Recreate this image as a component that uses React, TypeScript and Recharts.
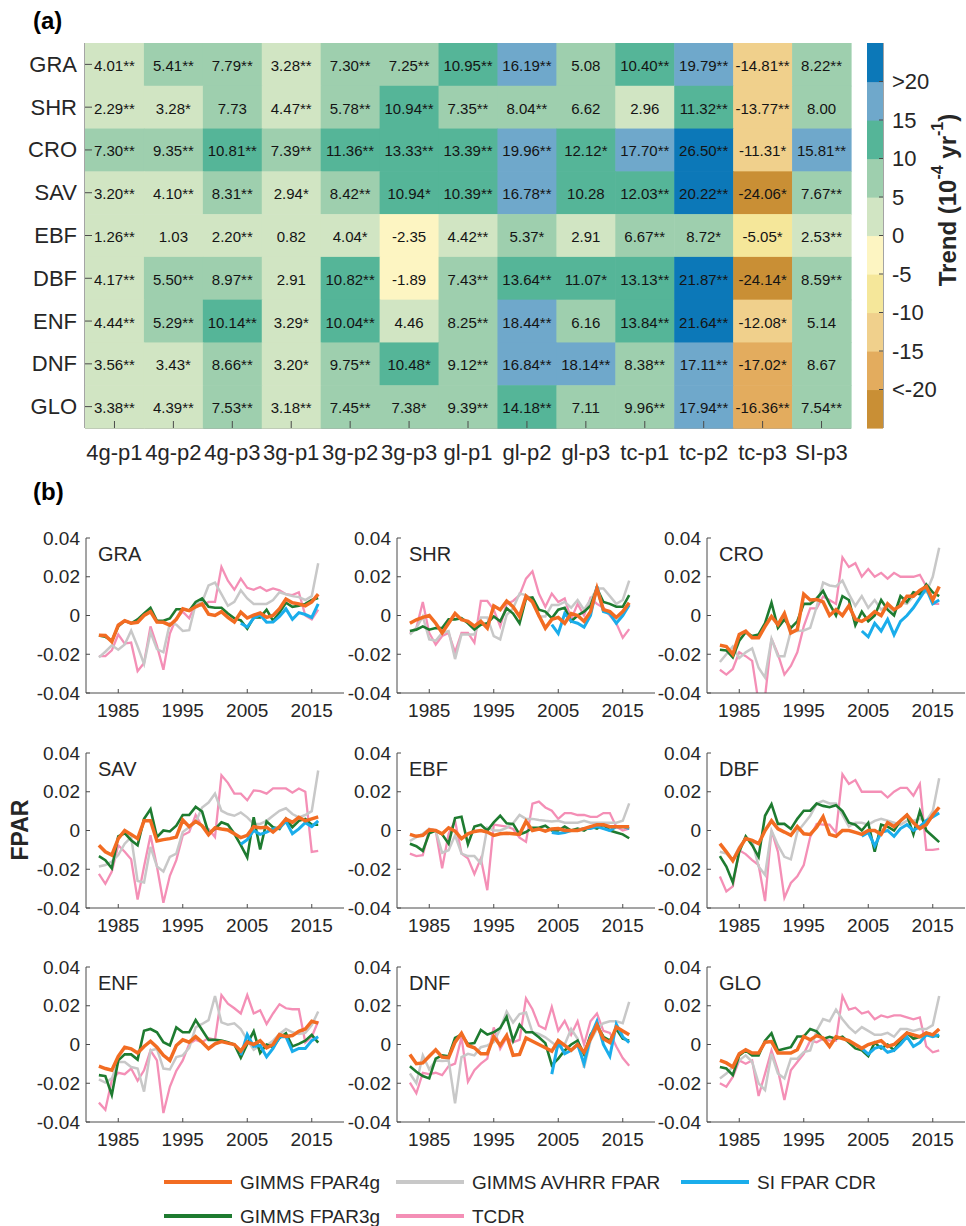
import React from 'react';
import { ScatterChart, Scatter, LineChart, Line, XAxis, YAxis } from 'recharts';

const FONT = '"Liberation Sans", Arial, Helvetica, sans-serif';
const INK = '#262626';
const AX = '#4a4a4a';

// ---------- (a) trend table ----------
const ROWS = ['GRA', 'SHR', 'CRO', 'SAV', 'EBF', 'DBF', 'ENF', 'DNF', 'GLO'];
const COLS = ['4g-p1', '4g-p2', '4g-p3', '3g-p1', '3g-p2', '3g-p3', 'gl-p1', 'gl-p2', 'gl-p3', 'tc-p1', 'tc-p2', 'tc-p3', 'SI-p3'];

const trendGRA = [4.01, 5.41, 7.79, 3.28, 7.30, 7.25, 10.95, 16.19, 5.08, 10.40, 19.79, -14.81, 8.22];
const sigGRA = ['**', '**', '**', '**', '**', '**', '**', '**', '', '**', '**', '**', '**'];
const trendSHR = [2.29, 3.28, 7.73, 4.47, 5.78, 10.94, 7.35, 8.04, 6.62, 2.96, 11.32, -13.77, 8.00];
const sigSHR = ['**', '*', '', '**', '**', '**', '**', '**', '', '', '**', '**', ''];
const trendCRO = [7.30, 9.35, 10.81, 7.39, 11.36, 13.33, 13.39, 19.96, 12.12, 17.70, 26.50, -11.31, 15.81];
const sigCRO = ['**', '**', '**', '**', '**', '**', '**', '**', '*', '**', '**', '*', '**'];
const trendSAV = [3.20, 4.10, 8.31, 2.94, 8.42, 10.94, 10.39, 16.78, 10.28, 12.03, 20.22, -24.06, 7.67];
const sigSAV = ['**', '**', '**', '*', '**', '*', '**', '**', '', '**', '**', '*', '**'];
const trendEBF = [1.26, 1.03, 2.20, 0.82, 4.04, -2.35, 4.42, 5.37, 2.91, 6.67, 8.72, -5.05, 2.53];
const sigEBF = ['**', '', '**', '', '*', '', '**', '*', '', '**', '*', '*', '**'];
const trendDBF = [4.17, 5.50, 8.97, 2.91, 10.82, -1.89, 7.43, 13.64, 11.07, 13.13, 21.87, -24.14, 8.59];
const sigDBF = ['**', '**', '**', '', '**', '', '**', '**', '*', '**', '**', '*', '**'];
const trendENF = [4.44, 5.29, 10.14, 3.29, 10.04, 4.46, 8.25, 18.44, 6.16, 13.84, 21.64, -12.08, 5.14];
const sigENF = ['**', '**', '**', '*', '**', '', '**', '**', '', '**', '**', '*', ''];
const trendDNF = [3.56, 3.43, 8.66, 3.20, 9.75, 10.48, 9.12, 16.84, 18.14, 8.38, 17.11, -17.02, 8.67];
const sigDNF = ['**', '*', '**', '*', '**', '*', '**', '**', '**', '**', '**', '*', ''];
const trendGLO = [3.38, 4.39, 7.53, 3.18, 7.45, 7.38, 9.39, 14.18, 7.11, 9.96, 17.94, -16.36, 7.54];
const sigGLO = ['**', '**', '**', '**', '**', '*', '**', '**', '', '**', '**', '**', '**'];

const trendRows = [trendGRA, trendSHR, trendCRO, trendSAV, trendEBF, trendDBF, trendENF, trendDNF, trendGLO];
const sigRows = [sigGRA, sigSHR, sigCRO, sigSAV, sigEBF, sigDBF, sigENF, sigDNF, sigGLO];

// colour classes (10 bins of width 5, open-ended at +-20)
const BIN_EDGES = [-25, -20, -15, -10, -5, 0, 5, 10, 15, 20, 25];
const BIN_COLORS = ['#C98F35', '#E3AC5E', '#F0D08C', '#F5E79A', '#FDF5C2', '#D1E5C3', '#9ECFAE', '#55B598', '#6FA8CB', '#0C78B8'];
const CB_TICKS = [-20, -15, -10, -5, 0, 5, 10, 15, 20];

const binColor = (v: number) => {
  let i = 0;
  for (let k = 1; k < BIN_EDGES.length - 1; k++) if (v >= BIN_EDGES[k]) i = k;
  return BIN_COLORS[i];
};

const heatCells = ROWS.flatMap((_, r) =>
  COLS.map((_, c) => ({ c, r, v: trendRows[r][c], s: sigRows[r][c] }))
);
const cbCells = BIN_COLORS.map((color, i) => ({ x: 0.5, y: (BIN_EDGES[i] + BIN_EDGES[i + 1]) / 2, color }));

// ---------- (b) anomaly series ----------
const YEARS = [1982, 1983, 1984, 1985, 1986, 1987, 1988, 1989, 1990, 1991, 1992, 1993, 1994, 1995, 1996, 1997, 1998, 1999,
  2000, 2001, 2002, 2003, 2004, 2005, 2006, 2007, 2008, 2009, 2010, 2011, 2012, 2013, 2014, 2015, 2016];
const SI_YEARS = [2004, 2005, 2006, 2007, 2008, 2009, 2010, 2011, 2012, 2013, 2014, 2015, 2016];
const YEAR_TICKS = [1985, 1995, 2005, 2015];
const FPAR_TICKS = [-0.04, -0.02, 0, 0.02, 0.04];

const GRA_g4 = [-0.0102, -0.0103, -0.0135, -0.005, -0.0027, -0.004, -0.0035, 0, 0.002, -0.0034, -0.0035, -0.005, -0.002, 0.0035, 0.0025, 0.0045, 0.006, 0.0007, 0, 0.002, -0.001, -0.0034, 0.0017, -0.0013, 0.0002, 0.0013, -0.001, 0, 0.0035, 0.0085, 0.0066, 0.006, 0.005, 0.007, 0.011];
const GRA_g3 = [-0.0103, -0.011, -0.013, -0.0056, -0.0027, -0.004, -0.002, 0.001, 0.004, -0.0027, -0.0027, -0.0015, 0.0032, 0.0032, 0.0025, 0.007, 0.0088, 0.0045, 0.004, 0.004, 0.001, -0.0015, -0.0025, -0.0068, -0.001, -0.001, 0.003, -0.0027, 0.0015, 0.0066, 0.0045, 0.005, 0.006, 0.008, 0.009];
const GRA_si = [-0.004, -0.006, -0.0014, 0.0003, -0.0035, -0.0034, -0.0005, 0.0034, -0.002, 0.0015, 0.0005, -0.001, 0.006];
const GRA_av = [-0.0216, -0.0187, -0.0154, -0.0177, -0.015, -0.0078, -0.016, -0.025, -0.0086, -0.0174, -0.019, -0.004, -0.0047, -0.008, -0.0076, 0.006, 0.007, 0.0155, 0.017, 0.011, 0.005, 0.007, 0.013, 0.0088, 0.006, 0.006, 0.006, 0.008, 0.012, 0.011, 0.01, 0.0095, 0.008, 0.01, 0.027];
const GRA_tc = [-0.021, -0.021, -0.018, -0.0098, -0.0145, -0.014, -0.0287, -0.0245, -0.0056, -0.0157, -0.028, -0.0093, -0.0014, 0.002, -0.0014, 0.006, 0.005, 0.007, 0.007, 0.025, 0.018, 0.0133, 0.019, 0.0143, 0.0133, 0.0147, 0.0127, 0.014, 0.013, 0.011, 0.0105, 0.012, 0, -0.002, 0.003];

const SHR_g4 = [-0.004, -0.0022, -0.001, 0, -0.004, -0.009, -0.004, 0.001, -0.0022, -0.003, -0.0055, -0.003, -0.0065, 0.005, 0.003, 0.0075, 0.0045, -0.0005, 0.01, 0.007, 0, -0.0065, -0.002, -0.001, -0.004, 0.001, 0, -0.003, 0.002, 0.014, 0.003, 0.002, -0.001, 0.002, 0.0066];
const SHR_g3 = [-0.008, -0.0073, -0.0056, -0.0073, -0.0065, -0.0065, -0.002, -0.002, -0.0014, -0.004, -0.0073, -0.0047, -0.004, -0.0005, -0.003, 0.0037, 0.001, -0.004, 0.0088, 0.0093, 0.003, 0.002, -0.0014, 0.003, 0.004, -0.003, 0, 0.002, 0.005, 0.014, 0.007, 0.006, 0.0045, 0.0045, 0.0105];
const SHR_si = [-0.0047, -0.0093, 0.001, -0.003, -0.004, -0.006, 0, 0.015, 0.002, 0.001, -0.004, 0, 0.0054];
const SHR_av = [-0.0098, -0.0065, -0.0005, -0.0123, -0.013, -0.009, -0.008, -0.0225, -0.0098, -0.0098, -0.0098, -0.001, -0.001, -0.0106, -0.0123, 0.0003, 0.0037, 0.0113, 0.0105, 0.008, -0.0005, -0.0005, 0.0054, 0.0054, 0.007, 0.004, 0.008, 0.003, 0.008, 0.014, 0.014, 0.01, 0.006, 0.008, 0.018];
const SHR_tc = [-0.009, -0.0065, 0.007, -0.009, -0.015, -0.0106, -0.009, -0.019, -0.009, -0.009, -0.014, 0.0075, 0.0075, 0.003, -0.0056, 0.006, 0.0075, 0.0105, 0.019, 0.0228, 0.0113, 0.0045, 0.0113, 0.007, 0.0088, -0.002, 0.006, 0, 0.009, 0.006, 0.004, 0, -0.004, -0.0115, -0.007];

const CRO_g4 = [-0.0153, -0.016, -0.02, -0.0098, -0.0081, -0.0115, -0.0115, -0.0056, -0.0005, -0.0047, 0.001, -0.009, -0.0073, 0.011, 0.008, 0.0083, 0.007, 0, 0.003, 0, 0.005, -0.002, -0.003, -0.001, 0.002, 0, 0.006, 0.003, 0.005, 0.01, 0.01, 0.013, 0.015, 0.008, 0.015];
const CRO_g3 = [-0.0177, -0.018, -0.0216, -0.013, -0.0086, -0.0106, -0.0098, -0.004, 0.0066, -0.0064, -0.002, -0.0064, -0.003, 0.006, 0.006, 0.0088, 0.0127, 0.006, 0, 0.01, 0.008, -0.005, 0.002, -0.003, 0, 0.008, 0.003, 0, 0.01, 0.007, 0.012, 0.011, 0.016, 0.012, 0.01];
const CRO_si = [-0.008, -0.011, -0.004, -0.008, -0.002, -0.01, -0.003, 0, 0.004, 0.009, 0.014, 0.006, 0.008];
const CRO_av = [-0.024, -0.02, -0.016, -0.022, -0.019, -0.017, -0.027, -0.032, -0.012, -0.021, -0.021, -0.008, -0.008, -0.0077, -0.0064, 0.0045, 0.017, 0.0155, 0.015, 0.018, 0.011, 0.005, 0.01, 0.004, 0.008, 0.003, 0.005, 0.002, 0.007, 0.006, 0.01, 0.012, 0.012, 0.02, 0.035];
const CRO_tc = [-0.028, -0.0305, -0.0276, -0.019, -0.021, -0.0234, -0.045, -0.042, -0.012, -0.02, -0.0305, -0.026, -0.019, -0.0056, 0.0037, 0.0037, 0.0098, 0.008, 0.006, 0.03, 0.025, 0.027, 0.02, 0.024, 0.02, 0.022, 0.019, 0.022, 0.02, 0.02, 0.02, 0.021, 0.015, 0.006, 0.006];

const SAV_g4 = [-0.0076, -0.011, -0.0127, -0.0042, 0, -0.002, -0.0042, 0.005, 0.005, -0.0054, -0.0047, -0.0042, -0.0034, 0.0054, 0.002, 0.0047, 0.0025, -0.0022, 0.0014, 0.0008, 0.0003, -0.0017, -0.0037, -0.0025, 0.002, 0.0014, 0.0017, -0.0008, 0.002, 0.006, 0.0042, 0.0068, 0.005, 0.006, 0.007];
const SAV_g3 = [-0.0132, -0.0153, -0.0195, -0.003, -0.0014, -0.005, -0.0076, 0.006, 0.011, -0.0034, 0, -0.0005, 0.0025, 0.008, 0.008, 0.0122, 0.0098, -0.0014, 0.0008, 0.0042, 0.003, -0.0017, -0.0076, -0.0139, 0.0068, -0.0098, 0.0047, 0.0017, 0.0008, 0.006, 0.0017, 0.005, 0.006, 0.003, 0.003];
const SAV_si = [-0.0071, -0.0047, 0, -0.002, -0.0008, 0.0008, 0.0014, 0.0047, -0.0017, 0.0008, 0.004, 0.002, 0.005];
const SAV_av = [-0.0186, -0.0178, -0.016, -0.0127, -0.0068, -0.0034, -0.026, -0.0268, -0.0085, -0.0186, -0.0212, -0.0136, -0.0119, -0.0008, 0.0017, 0.0042, 0.0119, 0.0144, 0.019, 0.0102, 0.0085, 0.0076, 0.0093, 0.0068, 0.0034, 0.0034, 0.005, 0.0076, 0.0102, 0.0115, 0.0085, 0.0068, 0.008, 0.01, 0.031];
const SAV_tc = [-0.0224, -0.0275, -0.0212, -0.0076, -0.011, -0.0149, -0.0356, -0.0186, -0.0025, -0.0186, -0.0373, -0.0234, -0.0153, -0.0025, -0.0008, 0.008, 0.002, 0.0008, -0.0034, 0.0285, 0.0246, 0.019, 0.019, 0.0156, 0.0207, 0.0203, 0.019, 0.0217, 0.0217, 0.0217, 0.0195, 0.0217, 0.02, -0.011, -0.0105];

const EBF_g4 = [-0.002, -0.003, -0.0025, 0.0003, 0, -0.0017, 0.0014, -0.0003, -0.0042, -0.0017, -0.0005, 0, -0.0008, -0.0025, -0.0017, -0.0014, -0.0017, -0.002, 0.0047, 0, 0.0008, -0.0003, 0.0008, 0.001, 0, 0, 0, 0.001, 0.002, 0.003, 0.003, 0.002, 0.002, 0.002, 0.002];
const EBF_g3 = [-0.0068, -0.0081, -0.0105, -0.0014, 0, -0.002, -0.0068, 0.0064, 0.0071, -0.0071, 0.002, 0.003, 0, 0.0042, 0.0076, 0.0037, 0.0034, -0.002, -0.0008, 0.0014, 0.0014, 0.0025, 0, 0, 0.002, 0, 0.001, 0, 0.002, 0.001, 0.003, 0, -0.001, -0.002, -0.004];
const EBF_si = [-0.001, -0.0015, -0.001, 0, 0, 0.001, 0.001, 0.002, 0.001, 0, 0.002, 0.002, 0.001];
const EBF_av = [-0.0054, -0.0034, -0.0017, 0.0008, 0, -0.0115, -0.0102, -0.0025, -0.0119, -0.0132, -0.0132, -0.017, 0.0014, 0, 0, 0.0014, 0.0037, 0.008, 0.006, 0.006, 0.0054, 0.005, 0.0047, 0.005, 0.004, 0.004, 0.004, 0.005, 0.004, 0.004, 0.004, 0.004, 0.004, 0.005, 0.014];
const EBF_tc = [-0.0119, -0.0132, -0.0127, 0.0008, 0, -0.0195, -0.0017, 0.005, -0.0119, -0.0144, -0.0224, -0.0144, -0.0308, 0.003, 0.0025, 0.002, 0.0008, -0.0037, -0.0059, 0.0139, 0.0149, 0.0119, 0.0102, 0.006, 0.009, 0.009, 0.008, 0.008, 0.007, 0.007, 0.009, 0.009, 0.002, 0, 0.001];

const DBF_g4 = [-0.0068, -0.011, -0.0156, -0.0093, -0.0042, -0.0051, -0.0068, 0, 0.005, 0.0008, -0.0008, -0.0025, 0.002, -0.0017, -0.002, 0.0017, 0.0071, -0.002, -0.003, 0, 0, -0.001, -0.002, 0, 0, -0.002, 0.004, 0.002, 0.005, 0.008, 0.004, 0.001, 0.003, 0.008, 0.012];
const DBF_g3 = [-0.0132, -0.0186, -0.0268, -0.011, -0.003, -0.0076, -0.0136, 0.0076, 0.0136, 0.0034, 0.0034, 0.0008, 0.006, 0.0102, 0.0102, 0.0139, 0.0127, 0.012, 0.013, 0.01, 0.004, 0.003, 0, 0.004, -0.011, 0.003, 0.002, 0, 0.005, 0.008, -0.002, 0.01, 0, -0.003, -0.006];
const DBF_si = [-0.003, -0.001, -0.008, -0.001, 0, -0.003, 0.001, 0.003, 0, 0.002, 0.005, 0.007, 0.009];
const DBF_av = [-0.011, -0.0119, -0.0153, -0.0085, -0.0042, -0.0054, -0.0186, -0.0229, 0, -0.0076, -0.0136, -0.0149, -0.0008, 0.0034, 0.0076, 0.0139, 0.0153, 0.014, 0.014, 0.008, 0.002, 0.004, 0.004, 0.003, 0.005, 0.006, 0.005, 0.004, 0.003, 0.005, 0.005, 0.006, 0.005, 0.01, 0.027];
const DBF_tc = [-0.0237, -0.0314, -0.0288, -0.0102, -0.0122, -0.0153, -0.0178, -0.0364, 0, -0.011, -0.0347, -0.0271, -0.0237, -0.0178, -0.0034, 0.0034, 0.003, 0.003, -0.001, 0.029, 0.024, 0.026, 0.02, 0.02, 0.02, 0.02, 0.017, 0.02, 0.022, 0.022, 0.018, 0.024, -0.01, -0.01, -0.0095];

const ENF_g4 = [-0.0112, -0.0124, -0.0133, -0.0061, -0.0014, -0.0022, -0.0044, -0.001, 0.0017, -0.0014, -0.0056, -0.0082, -0.0005, 0.0024, 0.0012, 0.0041, 0.0012, -0.0022, 0.0003, 0.0015, 0.0007, 0, -0.0034, 0.0012, 0, 0.002, -0.0017, 0, 0.0051, 0.0041, 0.0046, 0.0068, 0.008, 0.012, 0.011];
const ENF_g3 = [-0.0158, -0.0163, -0.026, -0.0082, -0.0051, -0.0051, -0.0078, 0.0071, 0.008, 0.0063, 0.0012, -0.0005, 0.0088, 0.0063, 0.0063, 0.0126, 0.0075, 0.0024, 0.0024, 0.002, 0.0012, 0, -0.0068, 0.0003, 0.0068, -0.0044, 0, -0.0014, 0.0034, 0.0058, -0.001, 0.0003, 0.002, 0.005, 0.001];
const ENF_si = [-0.0056, 0.0051, -0.001, -0.0005, -0.0063, -0.002, 0.004, 0.004, -0.0036, -0.002, -0.002, 0.002, 0.004];
const ENF_av = [-0.018, -0.0197, -0.0175, -0.009, -0.009, -0.0116, -0.0124, -0.0243, -0.0031, -0.0022, -0.0124, -0.0129, -0.0065, -0.0056, -0.0017, 0.0088, 0.0106, 0.0126, 0.025, 0.0114, 0.0102, 0.0109, 0.008, 0.0024, -0.0027, -0.0005, -0.0005, 0.002, 0.0054, 0.008, 0.0063, 0.0054, 0.006, 0.01, 0.017];
const ENF_tc = [-0.03, -0.0337, -0.0184, -0.0146, -0.0153, -0.0124, -0.0187, -0.0133, -0.0031, -0.0082, -0.0354, -0.0218, -0.0136, -0.0082, 0.0003, 0.0024, 0.0012, 0.0034, 0.0024, 0.0255, 0.0211, 0.0187, 0.016, 0.0255, 0.016, 0.0177, 0.0106, 0.016, 0.0208, 0.0187, 0.0182, 0.0182, 0.001, 0.004, 0.012];

const DNF_g4 = [-0.0051, -0.0099, -0.0095, -0.0061, -0.0027, -0.0065, -0.0068, 0.0012, 0.0058, -0.0005, -0.0017, -0.0048, -0.0048, 0.0041, -0.0005, 0.0046, -0.0056, -0.0051, 0.0034, 0.0017, 0, -0.0017, -0.0034, 0.002, -0.0005, -0.003, 0, -0.004, 0.003, 0.01, 0.003, 0.001, 0.009, 0.007, 0.005];
const DNF_g3 = [-0.0112, -0.0141, -0.0163, -0.0175, -0.0073, -0.0056, -0.0061, 0.0034, 0.0051, 0.0003, 0.0007, 0.0075, 0.0051, 0.0063, 0.0085, 0.0143, 0.002, 0.0102, 0.0063, 0.0063, 0.0037, 0.0007, -0.0107, -0.0073, -0.0031, 0, 0.002, -0.005, 0.005, 0.01, 0.004, 0.002, 0.008, 0.003, 0.002];
const DNF_si = [-0.0153, 0.0012, -0.0048, -0.003, 0, -0.01, 0.004, 0.012, 0, -0.006, 0.0105, 0.004, 0.001];
const DNF_av = [-0.015, -0.02, -0.0056, -0.0129, -0.0082, -0.0085, -0.0082, -0.0303, -0.0065, -0.0048, -0.0056, -0.0014, -0.0005, 0.0012, 0.008, 0.017, 0.0114, 0.0157, 0.0165, 0.0063, 0.0054, 0.0037, 0.0012, -0.0014, 0, 0.008, 0.003, -0.012, 0.002, 0.008, 0.011, 0.012, 0.012, 0.011, 0.022];
const DNF_tc = [-0.0197, -0.0252, -0.0146, -0.0153, -0.0146, -0.0158, -0.0112, -0.0099, 0.0037, -0.0192, -0.0133, -0.0099, -0.0073, 0.0088, -0.0022, 0.0037, 0.0012, 0.0024, 0.0238, 0.0182, 0.0097, 0.008, 0.0194, 0.0071, 0.0122, 0.005, 0.012, 0, 0.012, 0.016, 0.007, 0.006, -0.001, -0.007, -0.011];

const GLO_g4 = [-0.0082, -0.0095, -0.0116, -0.0048, -0.0027, -0.0044, -0.0044, 0.0012, 0.0015, -0.0044, -0.0044, -0.0044, -0.0027, 0.0041, 0.0024, 0.0046, 0.0034, -0.001, 0.004, 0.003, 0.002, 0, -0.002, 0, 0.001, 0.002, -0.001, 0, 0.003, 0.006, 0.005, 0.004, 0.006, 0.005, 0.008];
const GLO_g3 = [-0.0116, -0.0124, -0.0158, -0.0056, -0.0031, -0.0056, -0.0056, 0.002, 0.0058, -0.0031, -0.0022, -0.0014, 0.0041, 0.0041, 0.008, 0.0068, 0.0029, 0.004, 0.003, 0.004, 0.001, -0.002, -0.003, -0.006, 0.001, -0.002, 0, -0.003, 0.002, 0.006, 0.003, 0.004, 0.006, 0.005, 0.004];
const GLO_si = [-0.002, -0.005, -0.002, -0.001, -0.004, -0.003, 0, 0.004, -0.001, 0.001, 0.005, 0.004, 0.005];
const GLO_av = [-0.0175, -0.015, -0.0116, -0.0082, -0.0056, -0.009, -0.02, -0.0235, -0.0048, -0.015, -0.0175, -0.0073, -0.0073, -0.0039, -0.0031, 0.0071, 0.0131, 0.012, 0.018, 0.013, 0.009, 0.006, 0.009, 0.007, 0.005, 0.005, 0.006, 0.004, 0.008, 0.008, 0.007, 0.008, 0.008, 0.01, 0.025];
const GLO_tc = [-0.02, -0.0218, -0.0167, -0.0082, -0.0099, -0.0082, -0.0266, -0.015, -0.0031, -0.0133, -0.0286, -0.0133, -0.009, -0.0048, 0.002, 0.0012, 0.003, 0.002, 0.002, 0.025, 0.018, 0.019, 0.016, 0.017, 0.013, 0.015, 0.014, 0.015, 0.015, 0.014, 0.013, 0.014, -0.001, -0.004, -0.003];

const PANELS = [
  { name: 'GRA', g4: GRA_g4, av: GRA_av, si: GRA_si, g3: GRA_g3, tc: GRA_tc },
  { name: 'SHR', g4: SHR_g4, av: SHR_av, si: SHR_si, g3: SHR_g3, tc: SHR_tc },
  { name: 'CRO', g4: CRO_g4, av: CRO_av, si: CRO_si, g3: CRO_g3, tc: CRO_tc },
  { name: 'SAV', g4: SAV_g4, av: SAV_av, si: SAV_si, g3: SAV_g3, tc: SAV_tc },
  { name: 'EBF', g4: EBF_g4, av: EBF_av, si: EBF_si, g3: EBF_g3, tc: EBF_tc },
  { name: 'DBF', g4: DBF_g4, av: DBF_av, si: DBF_si, g3: DBF_g3, tc: DBF_tc },
  { name: 'ENF', g4: ENF_g4, av: ENF_av, si: ENF_si, g3: ENF_g3, tc: ENF_tc },
  { name: 'DNF', g4: DNF_g4, av: DNF_av, si: DNF_si, g3: DNF_g3, tc: DNF_tc },
  { name: 'GLO', g4: GLO_g4, av: GLO_av, si: GLO_si, g3: GLO_g3, tc: GLO_tc },
];

// drawing order: back to front
const SERIES = [
  { key: 'tc', name: 'TCDR', color: '#F48FB6', width: 2.3 },
  { key: 'av', name: 'GIMMS AVHRR FPAR', color: '#C8C8C8', width: 2.5 },
  { key: 'g3', name: 'GIMMS FPAR3g', color: '#1E7B30', width: 2.6 },
  { key: 'si', name: 'SI FPAR CDR', color: '#1AADEB', width: 3 },
  { key: 'g4', name: 'GIMMS FPAR4g', color: '#F26C22', width: 3.5 },
];
const LEGEND_ROWS = [['g4', 'av', 'si'], ['g3', 'tc']];

const panelRows = (p: any) =>
  YEARS.map((year, i) => {
    const j = SI_YEARS.indexOf(year);
    return { year, g4: p.g4[i], av: p.av[i], g3: p.g3[i], tc: p.tc[i], si: j >= 0 ? p.si[j] : null };
  });

// ---------- layout ----------
const HM = { left: 85, right: 851, top: 43, bottom: 428 };
const CELL_W = (HM.right - HM.left) / COLS.length;
const CELL_H = (HM.bottom - HM.top) / ROWS.length;
const CB_X = 860;
const CB = { left: 867, right: 883 };
const CB_H = (HM.bottom - HM.top) / BIN_COLORS.length;

const PANEL_LEFT = [86, 397, 707];
const PANEL_TOP = [538, 753, 967];
const PW = 258;
const PH = 155;

// ---------- tick renderers ----------
const tickText = { fontFamily: FONT, fill: INK };

const HeatRowTick = (props: any) => {
  const { x, y, payload } = props;
  return (
    <g>
      <line x1={x + 8} x2={x + 15} y1={y} y2={y} stroke={AX} />
      <text x={x} y={y} textAnchor="end" dominantBaseline="central" fontSize={22} {...tickText}>{ROWS[payload.value]}</text>
    </g>
  );
};
const HeatColTick = (props: any) => {
  const { x, y, payload } = props;
  return (
    <g>
      <line x1={x} x2={x} y1={y} y2={y - 7} stroke={AX} />
      <text x={x} y={y + 24} textAnchor="middle" dominantBaseline="central" fontSize={22} {...tickText}>{COLS[payload.value]}</text>
    </g>
  );
};
const inTickDown = (len: number) => (props: any) => <line x1={props.x} x2={props.x} y1={props.y} y2={props.y + len} stroke={AX} />;
const inTickLeft = (len: number) => (props: any) => <line x1={props.x} x2={props.x - len} y1={props.y} y2={props.y} stroke={AX} />;

const CbTick = (props: any) => {
  const { x, y, payload } = props;
  const v = payload.value;
  const label = v === 20 ? '>20' : v === -20 ? '<-20' : String(v);
  return (
    <g>
      <line x1={x - 9} x2={x - 13} y1={y} y2={y} stroke={AX} />
      <text x={x} y={y} textAnchor="start" dominantBaseline="central" fontSize={22} {...tickText}>{label}</text>
    </g>
  );
};

const YearTick = (props: any) => {
  const { x, y, payload } = props;
  return (
    <g>
      <line x1={x} x2={x} y1={y} y2={y - 4} stroke={AX} />
      <text x={x} y={y + 17} textAnchor="middle" dominantBaseline="central" fontSize={19} {...tickText}>{payload.value}</text>
    </g>
  );
};
const FparTick = (props: any) => {
  const { x, y, payload } = props;
  const v = payload.value;
  return (
    <g>
      <line x1={x + 6} x2={x + 10} y1={y} y2={y} stroke={AX} />
      <text x={x} y={y} textAnchor="end" dominantBaseline="central" fontSize={19} {...tickText}>{v === 0 ? '0' : v.toFixed(2)}</text>
    </g>
  );
};

// ---------- components ----------
function HeatCell(props: any) {
  const { cx, cy, payload } = props;
  return (
    <g>
      <rect x={cx - CELL_W / 2} y={cy - CELL_H / 2} width={CELL_W + 0.6} height={CELL_H + 0.6} fill={binColor(payload.v)} />
      <text x={cx} y={cy + 1} textAnchor="middle" dominantBaseline="central" fontSize={15} fontFamily={FONT} fill="#141414">
        {payload.v.toFixed(2) + payload.s}
      </text>
    </g>
  );
}

function CbCell(props: any) {
  const { cx, cy, payload } = props;
  const w = CB.right - CB.left;
  return <rect x={cx - w / 2} y={cy - CB_H / 2} width={w} height={CB_H + 0.6} fill={payload.color} />;
}

function Heatmap() {
  const idx = ROWS.map((_, i) => i);
  const cidx = COLS.map((_, i) => i);
  return (
    <div style={{ position: 'absolute', left: 0, top: 0 }}>
      <ScatterChart width={966} height={480} margin={{ top: HM.top, right: 966 - HM.right, bottom: 12, left: 10 }}>
        <Scatter data={heatCells} xAxisId="b" yAxisId="l" shape={HeatCell} isAnimationActive={false} />
        <XAxis xAxisId="b" dataKey="c" type="number" domain={[-0.5, COLS.length - 0.5]} ticks={cidx} interval={0} height={40} tickSize={0} tickMargin={0} tickLine={false} axisLine={{ stroke: AX }} tick={HeatColTick} />
        <XAxis xAxisId="t" orientation="top" type="number" domain={[-0.5, COLS.length - 0.5]} ticks={cidx} interval={0} height={0} tickSize={0} tickMargin={0} tickLine={false} axisLine={{ stroke: AX }} tick={inTickDown(7)} />
        <YAxis yAxisId="l" dataKey="r" type="number" reversed domain={[-0.5, ROWS.length - 0.5]} ticks={idx} interval={0} width={75} tickSize={0} tickMargin={8} tickLine={false} axisLine={{ stroke: AX }} tick={HeatRowTick} />
        <YAxis yAxisId="r" orientation="right" type="number" reversed domain={[-0.5, ROWS.length - 0.5]} ticks={idx} interval={0} width={0} tickSize={0} tickMargin={0} tickLine={false} axisLine={{ stroke: AX }} tick={inTickLeft(7)} />
      </ScatterChart>
    </div>
  );
}

function ColorBar() {
  return (
    <div style={{ position: 'absolute', left: CB_X, top: 0 }}>
      <ScatterChart width={106} height={480} margin={{ top: HM.top, right: 23, bottom: 480 - HM.bottom, left: CB.left - CB_X }}>
        <Scatter data={cbCells} xAxisId="b" yAxisId="r" shape={CbCell} isAnimationActive={false} />
        <XAxis xAxisId="b" dataKey="x" type="number" domain={[0, 1]} height={0} tick={false} tickLine={false} axisLine={{ stroke: AX }} />
        <XAxis xAxisId="t" orientation="top" type="number" domain={[0, 1]} height={0} tick={false} tickLine={false} axisLine={{ stroke: AX }} />
        <YAxis yAxisId="l" type="number" domain={[-25, 25]} width={0} tick={false} tickLine={false} axisLine={{ stroke: AX }} />
        <YAxis yAxisId="r" orientation="right" dataKey="y" type="number" domain={[-25, 25]} ticks={CB_TICKS} interval={0} width={60} tickSize={0} tickMargin={9} tickLine={false} axisLine={{ stroke: AX }} tick={CbTick} />
      </ScatterChart>
    </div>
  );
}

function Panel({ p, left, top }: { p: any; left: number; top: number }) {
  const data = panelRows(p);
  return (
    <div style={{ position: 'absolute', left: left - 60, top: top - 10 }}>
      <LineChart width={60 + PW + 4} height={10 + PH + 35} data={data} margin={{ top: 10, right: 4, bottom: 5, left: 10 }}>
        {SERIES.map((s) => (
          <Line key={s.key} xAxisId="b" yAxisId="l" dataKey={s.key} name={s.name} type="linear" stroke={s.color} strokeWidth={s.width} dot={false} activeDot={false} connectNulls={false} isAnimationActive={false} />
        ))}
        <XAxis xAxisId="b" dataKey="year" type="number" domain={[1980, 2020]} ticks={YEAR_TICKS} interval={0} height={30} tickSize={0} tickMargin={0} tickLine={false} axisLine={{ stroke: AX }} tick={YearTick} allowDataOverflow />
        <XAxis xAxisId="t" orientation="top" type="number" domain={[1980, 2020]} ticks={YEAR_TICKS} interval={0} height={0} tickSize={0} tickMargin={0} tickLine={false} axisLine={{ stroke: AX }} tick={inTickDown(4)} />
        <YAxis yAxisId="l" type="number" domain={[-0.04, 0.04]} ticks={FPAR_TICKS} interval={0} width={50} tickSize={0} tickMargin={6} tickLine={false} axisLine={{ stroke: AX }} tick={FparTick} allowDataOverflow />
        <YAxis yAxisId="r" orientation="right" type="number" domain={[-0.04, 0.04]} ticks={FPAR_TICKS} interval={0} width={0} tickSize={0} tickMargin={0} tickLine={false} axisLine={{ stroke: AX }} tick={inTickLeft(4)} />
      </LineChart>
    </div>
  );
}

function Overlay() {
  const seriesByKey: Record<string, any> = {};
  SERIES.forEach((s) => (seriesByKey[s.key] = s));
  const legendX = [164, 396, 681];
  const legendY = [1182, 1216];
  return (
    <svg width={966} height={1226} style={{ position: 'absolute', left: 0, top: 0, pointerEvents: 'none' }} fontFamily={FONT}>
      <text x={33} y={29} fontSize={24} fontWeight="bold" fill="#000">(a)</text>
      <text x={33} y={500} fontSize={24} fontWeight="bold" fill="#000">(b)</text>
      <text transform="translate(947,200) rotate(-90)" textAnchor="middle" dominantBaseline="central" fontSize={24} fontWeight="bold" fill={INK}>
        Trend (10<tspan fontSize={16} dy={-10}>-4</tspan><tspan dy={10}> yr</tspan><tspan fontSize={16} dy={-10}>-1</tspan><tspan dy={10}>)</tspan>
      </text>
      <text transform="translate(20,830) rotate(-90)" textAnchor="middle" dominantBaseline="central" fontSize={23} fontWeight="bold" fill={INK}>FPAR</text>
      {PANELS.map((p, i) => (
        <text key={p.name} x={PANEL_LEFT[i % 3] + 12} y={PANEL_TOP[Math.floor(i / 3)] + 23} fontSize={20} fill={INK}>{p.name}</text>
      ))}
      {LEGEND_ROWS.map((row, r) =>
        row.map((k, c) => {
          const s = seriesByKey[k];
          return (
            <g key={k}>
              <line x1={legendX[c]} x2={legendX[c] + 68} y1={legendY[r]} y2={legendY[r]} stroke={s.color} strokeWidth={4} />
              <text x={legendX[c] + 76} y={legendY[r]} dominantBaseline="central" fontSize={19} fill={INK}>{s.name}</text>
            </g>
          );
        })
      )}
    </svg>
  );
}

export default function App() {
  return (
    <div style={{ position: 'absolute', left: 0, top: 0, width: 966, height: 1226, overflow: 'hidden', background: '#fff', fontFamily: FONT }}>
      <Heatmap />
      <ColorBar />
      {PANELS.map((p, i) => (
        <Panel key={p.name} p={p} left={PANEL_LEFT[i % 3]} top={PANEL_TOP[Math.floor(i / 3)]} />
      ))}
      <Overlay />
    </div>
  );
}
